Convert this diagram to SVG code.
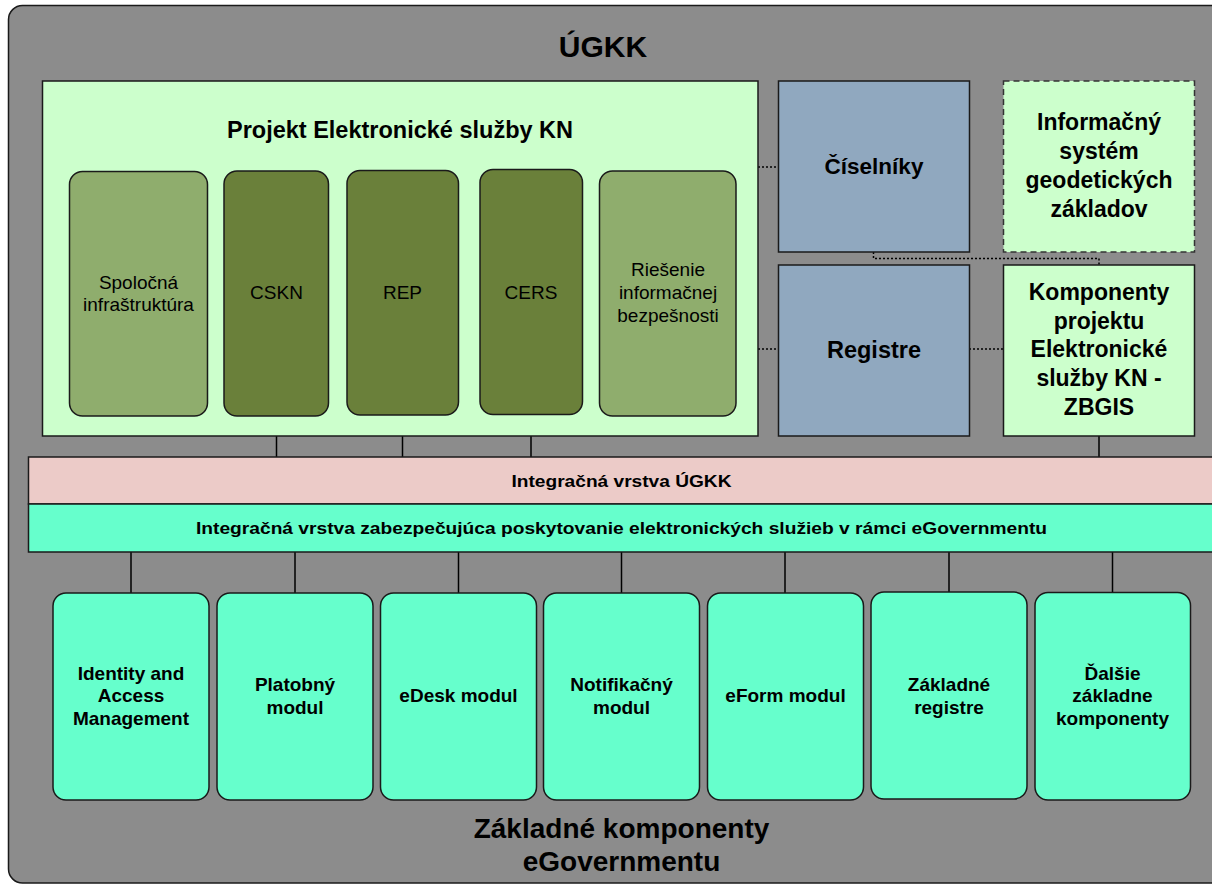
<svg xmlns="http://www.w3.org/2000/svg" width="1212" height="885" viewBox="0 0 1212 885">
<style>
text{font-family:"Liberation Sans",Arial,sans-serif;fill:#000;text-anchor:middle}
.b{font-weight:bold}
.box{stroke:#1a1a1a;stroke-width:1.5}
.lg{fill:#8fad6d}
.dg{fill:#6a803a}
.pale{fill:#ccffcc}
.blue{fill:#90a8bf}
.mod{fill:#66ffcc}
.ln{stroke:#000;stroke-width:1.5;fill:none}
.dot{stroke:#000;stroke-width:1.5;stroke-dasharray:2 2;fill:none}
.t19{font-size:19px}
.t23{font-size:23px}
.t19b{font-size:19px;font-weight:bold}
</style>
<rect width="1212" height="885" fill="#ffffff"/>
<g id="ugkk">
<rect x="8.5" y="5.5" width="1230" height="877.5" rx="14" fill="#8c8c8c" stroke="#1a1a1a" stroke-width="1.5"/>
<text x="603" y="57" class="b" style="font-size:30px">ÚGKK</text>
</g>
<g id="connectors">
<line class="ln" x1="276.5" y1="416" x2="276.5" y2="457"/>
<line class="ln" x1="402.5" y1="415" x2="402.5" y2="457"/>
<line class="ln" x1="531" y1="414.5" x2="531" y2="457"/>
<line class="ln" x1="1099" y1="436" x2="1099" y2="457"/>
<polyline class="dot" points="758,167 778,167"/>
<polyline class="dot" points="758,349 778,349"/>
<polyline class="dot" points="969,349 1003,349"/>
<polyline class="dot" points="873.5,252 873.5,258.5 1099,258.5 1099,265"/>
<line class="ln" x1="131" y1="552" x2="131" y2="593"/>
<line class="ln" x1="295" y1="552" x2="295" y2="593"/>
<line class="ln" x1="458.5" y1="552" x2="458.5" y2="593"/>
<line class="ln" x1="621.5" y1="552" x2="621.5" y2="593"/>
<line class="ln" x1="785" y1="552" x2="785" y2="593"/>
<line class="ln" x1="949" y1="552" x2="949" y2="592"/>
<line class="ln" x1="1112.5" y1="552" x2="1112.5" y2="592"/>
</g>
<g id="projekt">
<rect class="box pale" x="42.5" y="81" width="715.5" height="355"/>
<text x="400" y="138" class="b" style="font-size:23.5px">Projekt Elektronické služby KN</text>
</g>
<g id="spolocna">
<rect class="box lg" x="69.5" y="171.5" width="138" height="244.5" rx="13"/>
<text x="138.5" y="288.5" class="t19">Spoločná</text>
<text x="138.5" y="311" class="t19">infraštruktúra</text>
</g>
<g id="cskn">
<rect class="box dg" x="224" y="171" width="104.5" height="245" rx="13"/>
<text x="276.5" y="299" class="t19">CSKN</text>
</g>
<g id="rep">
<rect class="box dg" x="347" y="170.5" width="111.5" height="244.5" rx="13"/>
<text x="402.5" y="299" class="t19">REP</text>
</g>
<g id="cers">
<rect class="box dg" x="480" y="169.5" width="102.5" height="245" rx="13"/>
<text x="531" y="298.5" class="t19">CERS</text>
</g>
<g id="riesenie">
<rect class="box lg" x="599.5" y="171" width="136.5" height="245" rx="13"/>
<text x="668" y="276" class="t19">Riešenie</text>
<text x="668" y="299" class="t19">informačnej</text>
<text x="668" y="322" class="t19">bezpešnosti</text>
</g>
<g id="ciselniky">
<rect class="box blue" x="778.5" y="81" width="191" height="171"/>
<text x="874" y="173.5" class="b" style="font-size:22.5px">Číselníky</text>
</g>
<g id="isgz">
<rect x="1003.5" y="81" width="191" height="171" fill="#ccffcc" stroke="#333" stroke-width="1.5" stroke-dasharray="6 4"/>
<text x="1099" y="129.5" class="b t23">Informačný</text>
<text x="1099" y="158.5" class="b t23">systém</text>
<text x="1099" y="187.5" class="b t23">geodetických</text>
<text x="1099" y="216.5" class="b t23">základov</text>
</g>
<g id="registre">
<rect class="box blue" x="778.5" y="265" width="191" height="171"/>
<text x="874" y="357.5" class="b" style="font-size:23.5px">Registre</text>
</g>
<g id="komponenty">
<rect class="box pale" x="1003.5" y="265" width="191" height="171"/>
<text x="1099" y="300" class="b t23">Komponenty</text>
<text x="1099" y="328.5" class="b t23">projektu</text>
<text x="1099" y="357" class="b t23">Elektronické</text>
<text x="1099" y="386" class="b t23">služby KN -</text>
<text x="1099" y="414.5" class="b t23">ZBGIS</text>
</g>
<g id="integracna-ugkk">
<rect class="box" fill="#eccbc8" x="28.5" y="457" width="1200" height="47"/>
<text x="621.5" y="486.5" class="b" style="font-size:17px" textLength="220" lengthAdjust="spacingAndGlyphs">Integračná vrstva ÚGKK</text>
</g>
<g id="integracna-egov">
<rect class="box" fill="#66ffcc" x="28.5" y="504" width="1200" height="48"/>
<text x="621.5" y="534" class="b" style="font-size:17px" textLength="851" lengthAdjust="spacingAndGlyphs">Integračná vrstva zabezpečujúca poskytovanie elektronických služieb v rámci eGovernmentu</text>
</g>
<g id="iam">
<rect class="box mod" x="53" y="593" width="156" height="207" rx="13"/>
<text x="131" y="679.5" class="t19b">Identity and</text>
<text x="131" y="702" class="t19b">Access</text>
<text x="131" y="725" class="t19b">Management</text>
</g>
<g id="platobny">
<rect class="box mod" x="217" y="593" width="156" height="207" rx="13"/>
<text x="295" y="690.5" class="t19b">Platobný</text>
<text x="295" y="713.5" class="t19b">modul</text>
</g>
<g id="edesk">
<rect class="box mod" x="380.5" y="593" width="156" height="207" rx="13"/>
<text x="458.5" y="702" class="t19b">eDesk modul</text>
</g>
<g id="notifikacny">
<rect class="box mod" x="543.5" y="593" width="156" height="207" rx="13"/>
<text x="621.5" y="690.5" class="t19b">Notifikačný</text>
<text x="621.5" y="713.5" class="t19b">modul</text>
</g>
<g id="eform">
<rect class="box mod" x="707.5" y="593" width="156" height="207" rx="13"/>
<text x="785.5" y="702" class="t19b">eForm modul</text>
</g>
<g id="zakladne-registre">
<rect class="box mod" x="871" y="592" width="156" height="207" rx="13"/>
<text x="949" y="690.5" class="t19b">Základné</text>
<text x="949" y="713.5" class="t19b">registre</text>
</g>
<g id="dalsie">
<rect class="box mod" x="1035" y="592.5" width="155.5" height="207.5" rx="13"/>
<text x="1112.5" y="679.5" class="t19b">Ďalšie</text>
<text x="1112.5" y="702" class="t19b">základne</text>
<text x="1112.5" y="725" class="t19b">komponenty</text>
</g>
<g id="zakladne-komponenty">
<text x="621.5" y="837.5" class="b" style="font-size:28px">Základné komponenty</text>
<text x="621.5" y="870.5" class="b" style="font-size:28px">eGovernmentu</text>
</g>
</svg>
